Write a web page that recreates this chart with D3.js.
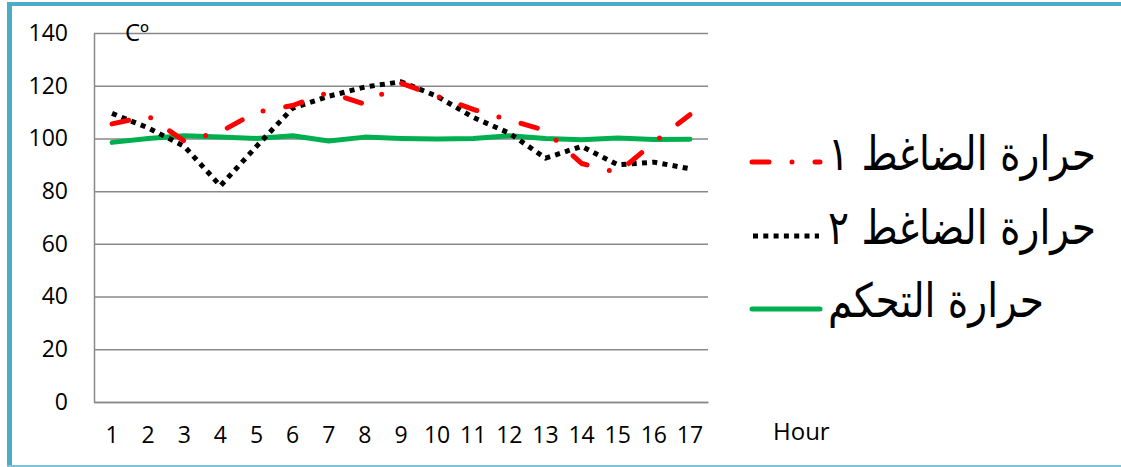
<!DOCTYPE html>
<html>
<head>
<meta charset="utf-8">
<script src="https://cdn.jsdelivr.net/npm/d3@7"></script>
<style>
  html, body { margin: 0; padding: 0; background: #fff; }
  svg { display: block; }
</style>
</head>
<body>
<svg id="chart" width="1121" height="467"></svg>
<script>
// chart data
const hours = [1, 2, 3, 4, 5, 6, 7, 8, 9, 10, 11, 12, 13, 14, 15, 16, 17]
const compressor1 = [105.5, 108.5, 99, 102.5, 110, 112.5, 117.5, 113, 121, 116, 111, 107, 103, 90.5, 87, 98.5, 109]
const compressor2 = [109.5, 104, 97, 82, 97, 111.5, 116, 119.5, 121.5, 116, 108, 102, 92.5, 97, 90, 91, 88.5]
const control = [98.5, 100, 101, 100.5, 100, 101, 99, 100.5, 100, 99.8, 100, 101, 100, 99.5, 100.2, 99.6, 99.7]
const yTicks = [0, 20, 40, 60, 80, 100, 120, 140]
const seriesNames = ['حرارة الضاغط ١', 'حرارة الضاغط ٢', 'حرارة التحكم']

const svg = d3.select('#chart')

// frame
svg.append('rect').attr('x', 0).attr('y', 0).attr('width', 1121).attr('height', 467).attr('fill', '#fff')
svg.append('line').attr('x1', 9.5).attr('x2', 9.5).attr('y1', 2).attr('y2', 467)
    .attr('stroke', '#4bacc6').attr('stroke-width', 5)
svg.append('line').attr('x1', 7).attr('x2', 1121).attr('y1', 4).attr('y2', 4)
    .attr('stroke', '#4bacc6').attr('stroke-width', 4)
svg.append('line').attr('x1', 7).attr('x2', 1121).attr('y1', 466).attr('y2', 466)
    .attr('stroke', '#7cc3d6').attr('stroke-width', 2)

const x = d3.scaleBand().domain(hours).range([94, 708])
const y = d3.scaleLinear().domain([0, 140]).range([402, 33])
const cx = (h) => x(h) + x.bandwidth() / 2

// y axis + gridlines
const yAxis = svg.append('g')
    .attr('transform', 'translate(94,0)')
    .call(d3.axisLeft(y).tickValues(yTicks).tickSize(-614).tickSizeOuter(0).tickPadding(26))
yAxis.selectAll('line').attr('stroke', '#898989').attr('stroke-width', 1.5)
yAxis.select('.domain').attr('stroke', '#898989').attr('stroke-width', 1.5)
yAxis.selectAll('text')
    .attr('font-family', 'Open Sans, sans-serif').attr('font-size', 23).attr('fill', '#000')

// x axis
const xAxis = svg.append('g')
    .attr('transform', 'translate(0,402)')
    .call(d3.axisBottom(x).tickSize(0).tickPadding(25))
xAxis.select('.domain').attr('stroke', '#898989').attr('stroke-width', 1.5)
xAxis.selectAll('text')
    .attr('font-family', 'Open Sans, sans-serif').attr('font-size', 23).attr('fill', '#000')

svg.append('text').attr('x', 773).attr('y', 440)
    .attr('font-family', 'Open Sans, sans-serif').attr('font-size', 24)
    .text('Hour')
svg.append('text').attr('x', 125).attr('y', 41)
    .attr('font-family', 'Open Sans, sans-serif').attr('font-size', 24)
    .text('Cº')

// lines
const line = d3.line().x((d, i) => cx(hours[i])).y((d) => y(d))

const styles = [
    { color: '#ff0000', dash: '17,23,0,23', cap: 'round' },
    { color: '#000000', dash: '5,5.3', cap: 'butt' },
    { color: '#00b050', dash: null, cap: 'round' }
]
const allSeries = [compressor1, compressor2, control]

// draw control first so the dashed lines sit on top like the picture
const order = [2, 1, 0]
order.forEach((k) => {
    svg.append('path')
        .datum(allSeries[k])
        .attr('d', line)
        .attr('fill', 'none')
        .attr('stroke', styles[k].color)
        .attr('stroke-width', 5)
        .attr('stroke-linecap', styles[k].cap)
        .attr('stroke-linejoin', 'round')
        .attr('stroke-dasharray', styles[k].dash)
})

// legend
const legendY = [162, 236, 309]
const legend = svg.append('g')
let fs = 30
seriesNames.forEach((name, k) => {
    legend.append('line')
        .attr('x1', k === 1 ? 753 : 752).attr('x2', k === 1 ? 819 : 820)
        .attr('y1', legendY[k]).attr('y2', legendY[k])
        .attr('stroke', styles[k].color)
        .attr('stroke-width', 5)
        .attr('stroke-linecap', styles[k].cap)
        .attr('stroke-dasharray', styles[k].dash)
    const base = legendY[k] + 8
    const t = legend.append('text')
        .attr('x', 828).attr('y', base)
        .attr('font-family', 'DejaVu Sans, sans-serif')
        .attr('font-size', 30)
        .attr('transform', `translate(0,${base}) scale(1,1.2) translate(0,${-base})`)
        .text(name)
    if (k === 0) fs = 30 * 268 / t.node().getComputedTextLength()
})
legend.selectAll('text').attr('font-size', fs)
</script>
</body>
</html>
